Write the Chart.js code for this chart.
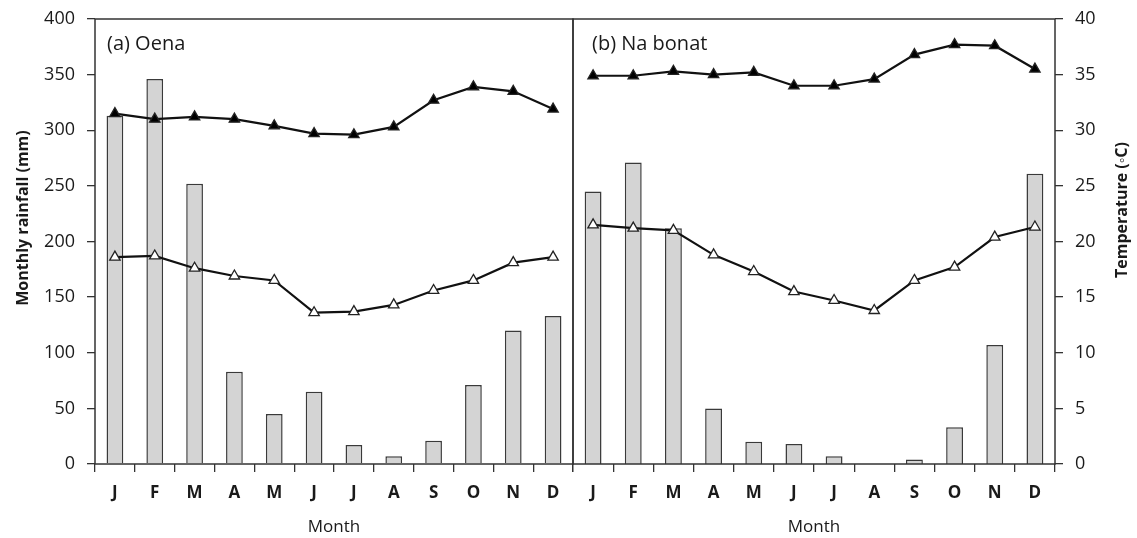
<!DOCTYPE html>
<html>
<head>
<meta charset="utf-8">
<script src="https://cdn.jsdelivr.net/npm/chart.js@4.4.0/dist/chart.umd.min.js"></script>
<style>
  body { margin: 0; background: #fff; }
  #wrap { position: relative; width: 1137px; height: 538px; }
  #wrap canvas { position: absolute; top: 0; }
  #left { left: 0; }
  #right { left: 571px; }
</style>
</head>
<body>
<div id="wrap">
  <canvas id="left" width="575" height="538"></canvas>
  <canvas id="right" width="566" height="538"></canvas>
</div>
<script>
// --- DATA ---
const months = ['J', 'F', 'M', 'A', 'M', 'J', 'J', 'A', 'S', 'O', 'N', 'D'];
const rainTicks = [0, 50, 100, 150, 200, 250, 300, 350, 400];
const tempTicks = [0, 5, 10, 15, 20, 25, 30, 35, 40];

// (a) Oena
const oenaRain = [313, 346, 252, 83, 45, 65, 17, 7, 21, 71, 120, 133];
const oenaTmax = [31.5, 31.0, 31.2, 31.0, 30.4, 29.7, 29.6, 30.3, 32.7, 33.9, 33.5, 31.9];
const oenaTmin = [18.6, 18.7, 17.6, 16.9, 16.5, 13.6, 13.7, 14.3, 15.6, 16.5, 18.1, 18.6];

// (b) Na bonat
const nabonatRain = [245, 271, 212, 50, 20, 18, 7, 0, 4, 33, 107, 261];
const nabonatTmax = [34.9, 34.9, 35.3, 35.0, 35.2, 34.0, 34.0, 34.6, 36.8, 37.7, 37.6, 35.5];
const nabonatTmin = [21.5, 21.2, 21.0, 18.8, 17.3, 15.5, 14.7, 13.8, 16.5, 17.7, 20.4, 21.3];

// --- STYLE ---
Chart.defaults.font.family = "'Open Sans', sans-serif";
Chart.defaults.color = '#1a1a1a';
const FONT = "'Open Sans', sans-serif";

function barSet(values, axis) {
    return {
        type: 'bar',
        data: values,
        yAxisID: axis,
        backgroundColor: '#d4d4d4',
        borderColor: '#3a3a3a',
        borderWidth: 1.5,
        barPercentage: 0.42,
        categoryPercentage: 1,
        order: 2
    };
}

function lineSet(values, fill, axis) {
    return {
        type: 'line',
        data: values,
        yAxisID: axis,
        borderColor: '#111',
        borderWidth: 2.2,
        tension: 0,
        pointStyle: 'triangle',
        pointRadius: 6,
        pointBackgroundColor: fill,
        pointBorderColor: '#222',
        pointBorderWidth: 1.3,
        clip: false,
        order: 1
    };
}

function monthAxis() {
    return {
        offset: true,
        border: { display: false },
        grid: { offset: true, drawOnChartArea: false, drawTicks: true, tickLength: 8, color: '#333', lineWidth: 1.3 },
        ticks: { font: { size: 17, weight: 'bold' }, padding: 11, color: '#1a1a1a' },
        title: { display: true, text: 'Month', font: { size: 17 }, padding: { top: 4, bottom: 1 }, color: '#1a1a1a' },
        afterFit: s => {
            s.height = 74;
            // keep the plot area where the layout padding puts it
            s.paddingLeft = 0;
            s.paddingRight = 0;
        }
    };
}

// width: fixed box width of the axis (0 for the hidden one)
function valueAxis(pos, min, max, step, list, width, show) {
    return {
        position: pos,
        min: min,
        max: max,
        display: show,
        border: { display: false },
        afterBuildTicks: s => { s.ticks = list.map(v => ({ value: v })); },
        grid: { drawOnChartArea: false, drawTicks: true, tickLength: 8, color: '#333', lineWidth: 1.3 },
        ticks: { stepSize: step, font: { size: 18 }, padding: 12, color: '#1a1a1a' },
        afterFit: s => {
            s.width = width;
            s.paddingTop = 0;
            s.paddingBottom = 0;
        }
    };
}

// frame round the plot area + panel label + side title
function panelDecor(label, labelX, sideTitle, sideX, sideY) {
    return {
        id: 'decor',
        afterDraw(chart) {
            const { ctx, chartArea: a } = chart;
            ctx.save();
            ctx.strokeStyle = '#333';
            ctx.lineWidth = 1.5;
            ctx.strokeRect(a.left, a.top, a.right - a.left, a.bottom - a.top);

            ctx.fillStyle = '#1a1a1a';
            ctx.font = '20px ' + FONT;
            ctx.textBaseline = 'middle';
            ctx.textAlign = 'left';
            ctx.fillText(label, labelX, 44);

            ctx.translate(sideX, sideY);
            ctx.rotate(-Math.PI / 2);
            ctx.font = 'bold 16px ' + FONT;
            ctx.textAlign = 'center';
            ctx.fillText(sideTitle, 0, 0);
            ctx.restore();
        }
    };
}

// --- LEFT PANEL: (a) Oena ---
new Chart(document.getElementById('left'), {
    type: 'bar',
    data: {
        labels: months,
        datasets: [
            lineSet(oenaTmax, '#000', 'temp'),
            lineSet(oenaTmin, '#fff', 'temp'),
            barSet(oenaRain, 'rain')
        ]
    },
    options: {
        responsive: false,
        animation: false,
        layout: { autoPadding: false, padding: { top: 19, right: 2, left: 0, bottom: 0 } },
        plugins: { legend: { display: false }, tooltip: { enabled: false } },
        scales: {
            x: monthAxis(),
            rain: valueAxis('left', 0, 400, 50, rainTicks, 95, true),
            temp: valueAxis('right', 0, 40, 5, tempTicks, 0, false)
        }
    },
    plugins: [panelDecor('(a) Oena', 107, 'Monthly rainfall (mm)', 23, 218)]
});

// --- RIGHT PANEL: (b) Na bonat ---
new Chart(document.getElementById('right'), {
    type: 'bar',
    data: {
        labels: months,
        datasets: [
            lineSet(nabonatTmax, '#000', 'temp'),
            lineSet(nabonatTmin, '#fff', 'temp'),
            barSet(nabonatRain, 'rain')
        ]
    },
    options: {
        responsive: false,
        animation: false,
        layout: { autoPadding: false, padding: { top: 19, right: 0, left: 2, bottom: 0 } },
        plugins: { legend: { display: false }, tooltip: { enabled: false } },
        scales: {
            x: monthAxis(),
            rain: valueAxis('left', 0, 400, 50, rainTicks, 0, false),
            temp: valueAxis('right', 0, 40, 5, tempTicks, 82, true)
        }
    },
    plugins: [panelDecor('(b) Na bonat', 21, 'Temperature (\u25E6C)', 551, 210)]
});
</script>
</body>
</html>
